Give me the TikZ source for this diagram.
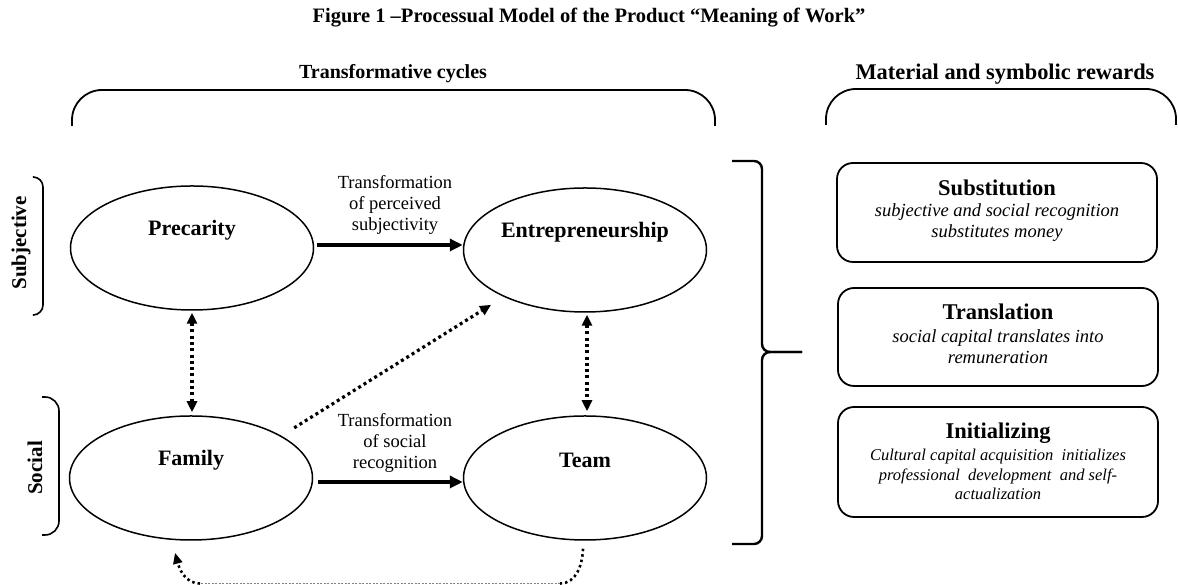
\documentclass[tikz,border=0pt]{standalone}
\usepackage{fontspec}
\setmainfont{Liberation Serif}
\usetikzlibrary{shapes.geometric,arrows.meta}
\begin{document}
\begin{tikzpicture}[x=1pt,y=1pt,
  oval/.style={ellipse,draw,line width=1.5pt,minimum width=243pt,minimum height=124pt,inner sep=0pt},
  ovaltext/.style={font=\fontsize{22}{25}\selectfont\bfseries},
  heading/.style={font=\fontsize{20}{24}\selectfont\bfseries},
  arrowlbl/.style={font=\fontsize{18.5}{21}\selectfont,align=center},
  solidarrow/.style={line width=3.6pt,-{Triangle[length=13pt,width=12pt]}},
  dotarrow/.style={line width=3.2pt,dash pattern=on 3pt off 3.3pt,-{Triangle[length=11pt,width=10pt]}},
  dotboth/.style={line width=3.2pt,dash pattern=on 3pt off 3.3pt,
    arrows={Triangle[length=11pt,width=10pt]-Triangle[length=11pt,width=10pt]}},
  dotcurve/.style={line width=2.6pt,dash pattern=on 2.5pt off 3pt},
  thinline/.style={line width=0.8pt,gray,dash pattern=on 2pt off 1.5pt},
  bracket/.style={line width=1.8pt,rounded corners=30pt},
  sidebracket/.style={line width=1.6pt,rounded corners=10pt},
  bracebar/.style={line width=2.4pt,rounded corners=8pt},
  rewardbox/.style={draw,line width=1.8pt,rounded corners=16pt,minimum width=320pt,inner sep=0pt},
  boxtitle/.style={font=\fontsize{22.5}{26}\selectfont\bfseries},
  boxtext/.style={font=\fontsize{18.5}{21}\selectfont\itshape,align=center},
  smalltext/.style={font=\fontsize{16.5}{19.5}\selectfont\itshape,align=center},
]
\useasboundingbox (0,0) rectangle (1178,585);

% titles and headings
\node[heading,font=\fontsize{20.5}{24}\selectfont\bfseries] (title) at (589,567)
  {Figure 1 –Processual Model of the Product “Meaning of Work”};
\node[heading] (hcyc) at (393,511) {Transformative cycles};
\node[heading,font=\fontsize{22.4}{26}\selectfont\bfseries] (hrew) at (1005,511) {Material and symbolic rewards};

% overhead brackets
\draw[bracket] (72,459) -- (72,495) -- (715,495) -- (715,459);
\draw[bracket] (826,460) -- (826,496) -- (1176,496) -- (1176,460);

% row brackets and their labels
\draw[sidebracket] (34,408) -- (43,408) -- (43,270) -- (34,270);
\draw[sidebracket,rounded corners=14pt] (42,188) -- (59,188) -- (59,50) -- (42,50);
\node[heading,font=\fontsize{21}{24}\selectfont\bfseries,rotate=90] (lsub) at (21,342) {Subjective};
\node[heading,font=\fontsize{21}{24}\selectfont\bfseries,rotate=90] (lsoc) at (35,117) {Social};

% the four stages
\node[oval,label={[ovaltext,yshift=18pt]center:Precarity}] (prec) at (192,337) {};
\node[oval,label={[ovaltext,yshift=18pt]center:Entrepreneurship}] (ent) at (585,335) {};
\node[oval,label={[ovaltext,yshift=18pt]center:Family}] (fam) at (191,107) {};
\node[oval,label={[ovaltext,yshift=18pt]center:Team}] (team) at (585,107) {};

% transformations
\draw[solidarrow] ([xshift=3pt,yshift=3pt]prec.east) -- ([yshift=3pt]prec.east -| ent.west);
\draw[solidarrow] ([xshift=5pt,yshift=-4pt]fam.east) -- ([yshift=-4pt]team.west);
\node[arrowlbl] (lt1) at (395,380) {Transformation\\of perceived\\subjectivity};
\node[arrowlbl] (lt2) at (395,142) {Transformation\\of social\\recognition};

% dotted links
\draw[dotboth] ([yshift=-2pt]prec.south) -- ([yshift=3pt]prec.south |- fam.north);
\draw[dotboth] ([xshift=2pt,yshift=-2pt]ent.south) -- ([xshift=2pt,yshift=4pt]team.north);
\draw[dotarrow,shorten <=15pt,shorten >=15pt] (fam.25) -- (ent.210);

% return path from Team to Family
\coordinate (bR) at (560,1.5);
\coordinate (bL) at (200,1.5);
\draw[dotcurve] ([xshift=-2pt,yshift=-8pt]team.south) to[out=-92,in=0] (bR);
\draw[thinline] (bR) -- (bL);
\draw[dotcurve,-{Triangle[length=11pt,width=9pt]}] (bL) to[out=180,in=-75]
  ([xshift=-16pt,yshift=-12pt]fam.south);

% brace gathering the cycles
\draw[bracebar] (732,424) -- (762,424) -- (762,233) -- (802,233);
\draw[bracebar] (802,233) -- (762,233) -- (762,41) -- (732,41);

% rewards
\node[rewardbox,minimum height=99pt] (bsub) at (997,372.5) {};
\node[boxtitle] (tsub) at (997,397) {Substitution};
\node[boxtext] (dsub) at (997,362.5) {subjective and social recognition\\substitutes money};

\node[rewardbox,minimum height=98pt] (btra) at (998,248) {};
\node[boxtitle] (ttra) at (998,273) {Translation};
\node[boxtext] (dtra) at (998,238.5) {social capital translates into\\remuneration};

\node[rewardbox,minimum height=110pt] (bini) at (998,123) {};
\node[boxtitle] (tini) at (998,152) {Initializing};
\node[smalltext] (dini) at (998,110.5) {Cultural capital acquisition\ \ initializes\\professional\ \ development\ \ and self-\\actualization};
\end{tikzpicture}
\end{document}
